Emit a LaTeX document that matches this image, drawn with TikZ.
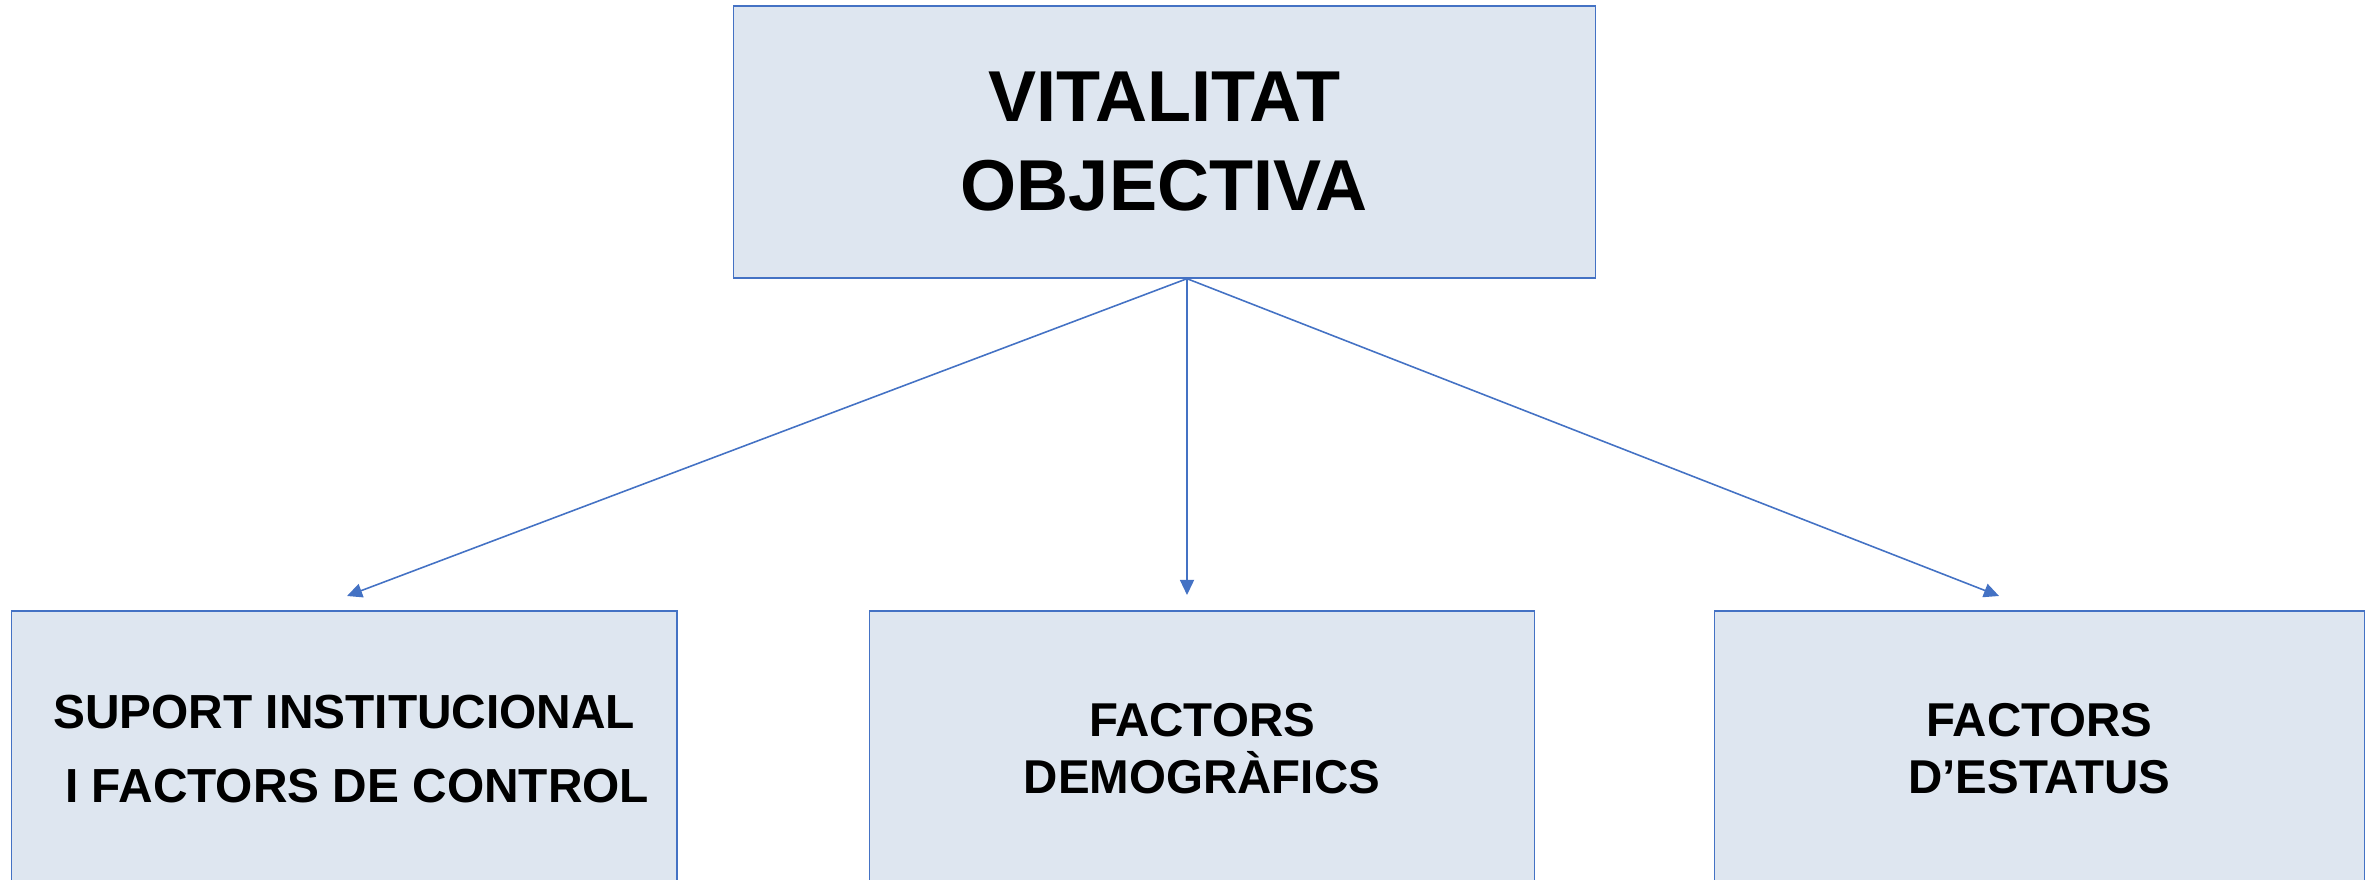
\documentclass[tikz,border=0pt]{standalone}
\usepackage{fontspec}
\setmainfont{Liberation Sans}
\usetikzlibrary{arrows.meta}
\definecolor{boxfill}{HTML}{DEE6F0}
\definecolor{boxline}{HTML}{4472C4}

\begin{document}
\begin{tikzpicture}[x=0.01cm,y=-0.01cm,
    box/.style={draw=boxline,line width=0.35pt,fill=boxfill,inner sep=0pt,align=center,
      minimum height=2.76cm,font=\bfseries\fontsize{13.5}{16.2}\selectfont},
    link/.style={draw=boxline,line width=0.45pt,-{Triangle[length=4.3pt,width=4pt]}}]
          \clip (0,0) rectangle (2380,880);

          % top box
          \node[box,minimum width=8.62cm,minimum height=2.72cm,
            font=\bfseries\fontsize{20.5}{25.3}\selectfont] (vit) at (1164.4,142) {VITALITAT\\OBJECTIVA};

          % suport
          \node[box,minimum width=6.65cm,font=\bfseries\fontsize{13.6}{21}\selectfont]
            (sup) at (344.2,749) {SUPORT INSTITUCIONAL\\\hspace*{0.26cm}I FACTORS DE CONTROL};

          % demografics
          \node[box,minimum width=6.65cm] (dem) at (1202,749) {FACTORS\\DEMOGRÀFICS};

          % estatus
          \node[box,minimum width=6.5cm] (est) at (2039.4,749) {FACTORS\\D’ESTATUS};

          % arrows
          \coordinate (tipS) at (347,596);
          \coordinate (tipD) at (1187,595);
          \coordinate (tipE) at (1999,596);
          \coordinate (src) at (vit.south -| tipD);
          \draw[link] (src) -- (tipS);
          \draw[link] (src) -- (tipD);
          \draw[link] (src) -- (tipE);

\end{tikzpicture}
\end{document}
